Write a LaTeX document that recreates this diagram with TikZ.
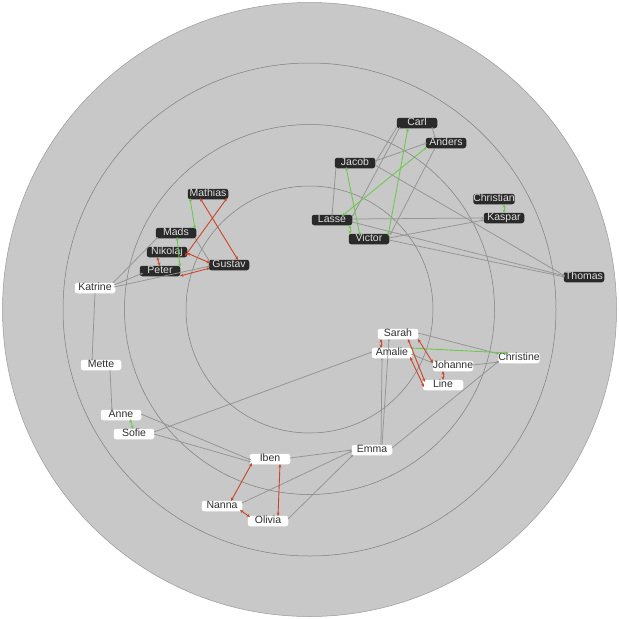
\documentclass[tikz,border=0pt]{standalone}
\usepackage{fontspec}
\setmainfont{Liberation Sans}
\usetikzlibrary{calc,arrows.meta}
\definecolor{bgc}{RGB}{200,200,200}
\definecolor{ring}{RGB}{125,125,125}
\definecolor{edg}{RGB}{148,148,148}
\definecolor{grn}{RGB}{110,200,80}
\definecolor{rd}{RGB}{200,70,40}
\definecolor{dk}{RGB}{42,42,42}
\newcommand\mylink[5]{\draw[#1] ($(#2)+(#3)$) -- ($(#4)+(#5)$);}
\begin{document}
\begin{tikzpicture}[x=1pt,y=-1pt,
  base/.style={rounded corners=2.5pt, minimum width=40.5pt, minimum height=10.5pt, inner sep=0pt, text height=7.4pt, text depth=1.8pt, font=\fontsize{10.5}{12}\selectfont},
  dnode/.style={base, fill=dk, text=white!88!black},
  wnode/.style={base, fill=white, text=black!82},
  grayedge/.style={draw=edg, line width=0.75pt, -{Stealth[length=2.5pt,width=2.2pt]}},
  greenedge/.style={draw=grn, line width=0.9pt, {Stealth[length=3.5pt,width=3pt]}-{Stealth[length=3.5pt,width=3pt]}},
  rededge/.style={draw=rd, line width=0.9pt, {Stealth[length=3.5pt,width=3pt]}-{Stealth[length=3.5pt,width=3pt]}},
  ringline/.style={draw=ring, line width=0.5pt}]
\useasboundingbox (0,0) rectangle (619,619);
\fill[white] (0,0) rectangle (619,619);
\draw[fill=bgc, draw=gray!80, line width=0.5pt] (309.5,309.5) circle (307pt);
\draw[ringline] (309.5,309.5) circle (246.5pt);
\draw[ringline] (309.5,309.5) circle (185pt);
\draw[ringline] (309.5,309.5) circle (123.5pt);
% dark nodes
\node[dnode] (Carl) at (417,123) {Carl};
\node[dnode] (Anders) at (446,143) {Anders};
\node[dnode] (Jacob) at (355,163) {Jacob};
\node[dnode] (Christian) at (494,199) {Christian};
\node[dnode] (Kaspar) at (504,218) {Kaspar};
\node[dnode] (Lasse) at (332,220) {Lasse};
\node[dnode] (Victor) at (369,239) {Victor};
\node[dnode] (Thomas) at (584,277) {Thomas};
\node[dnode] (Mathias) at (208,194) {Mathias};
\node[dnode] (Mads) at (176,233) {Mads};
\node[dnode] (Nikolaj) at (167,252) {Nikolaj};
\node[dnode] (Peter) at (160,271) {Peter};
\node[dnode] (Gustav) at (229,265) {Gustav};
% white nodes
\node[wnode] (Katrine) at (95,288) {Katrine};
\node[wnode] (Mette) at (101,365) {Mette};
\node[wnode] (Anne) at (121,415) {Anne};
\node[wnode] (Sofie) at (134,434) {Sofie};
\node[wnode] (Iben) at (270,459) {Iben};
\node[wnode] (Emma) at (372,450) {Emma};
\node[wnode] (Nanna) at (222,506) {Nanna};
\node[wnode] (Olivia) at (268,521) {Olivia};
\node[wnode] (Sarah) at (398,334) {Sarah};
\node[wnode] (Amalie) at (392,353) {Amalie};
\node[wnode] (Johanne) at (453,366) {Johanne};
\node[wnode] (Line) at (443,385) {Line};
\node[wnode] (Christine) at (519,358) {Christine};
% gray edges
\mylink{grayedge}{Carl}{-20,4}{Jacob}{20,0}
\mylink{grayedge}{Carl}{-17,4}{Lasse}{20,-3}
\mylink{grayedge}{Carl}{15,4}{Anders}{-11,-5}
\mylink{grayedge}{Jacob}{20,-2}{Anders}{-19,0}
\mylink{grayedge}{Jacob}{20,2}{Thomas}{-19,-1}
\mylink{grayedge}{Jacob}{-19,4}{Lasse}{0,-4}
\mylink{grayedge}{Anders}{-11,5}{Victor}{21,-4}
\mylink{grayedge}{Lasse}{20,-1}{Kaspar}{-20,0}
\mylink{grayedge}{Lasse}{20,2}{Thomas}{-19,-1}
\mylink{grayedge}{Victor}{20,-1}{Kaspar}{-20,2}
\mylink{grayedge}{Victor}{20,1}{Thomas}{-19,0}
\mylink{grayedge}{Mads}{19,5}{Gustav}{-19,-3}
\mylink{grayedge}{Katrine}{18,-5}{Mads}{-18,4}
\mylink{grayedge}{Katrine}{19,-3}{Peter}{-17,2}
\mylink{grayedge}{Katrine}{19,-1}{Gustav}{-19,1}
\mylink{grayedge}{Katrine}{0,5}{Mette}{-9,-4}
\mylink{grayedge}{Mette}{9,5}{Anne}{-9,-4}
\mylink{grayedge}{Anne}{20,-1}{Iben}{-19,1}
\mylink{grayedge}{Sofie}{20,0}{Iben}{-19,3}
\mylink{grayedge}{Sofie}{20,-2}{Amalie}{-20,-1}
\mylink{grayedge}{Iben}{20,-1}{Emma}{-20,0}
\mylink{grayedge}{Nanna}{20,-3}{Emma}{-20,1}
\mylink{grayedge}{Olivia}{20,-2}{Emma}{-19,5}
\mylink{grayedge}{Emma}{9,-5}{Amalie}{-10,5}
\mylink{grayedge}{Emma}{10,-5}{Sarah}{-9,5}
\mylink{grayedge}{Emma}{20,-2}{Christine}{-20,3}
\mylink{grayedge}{Sarah}{20,-1}{Christine}{-20,-4}
\mylink{grayedge}{Johanne}{20,-1}{Christine}{-20,4}
\mylink{grayedge}{Amalie}{19,1}{Johanne}{-20,-3}
% green edges
\mylink{greenedge}{Carl}{-9,5}{Victor}{19,-3}
\mylink{greenedge}{Jacob}{-9,4}{Victor}{-9,-3}
\mylink{greenedge}{Anders}{-19,4}{Lasse}{10,-4}
\mylink{greenedge}{Lasse}{18,5}{Victor}{-19,-5}
\mylink{greenedge}{Christian}{10,5}{Kaspar}{0,-5}
\mylink{greenedge}{Mathias}{-18,4}{Mads}{19,-4}
\mylink{greenedge}{Mads}{1,4}{Peter}{20,-4}
\mylink{greenedge}{Anne}{9,4}{Sofie}{-1,-5}
\mylink{greenedge}{Amalie}{18,-5}{Christine}{-11,-5}
% red edges
\mylink{rededge}{Mathias}{19,4}{Nikolaj}{18,4}
\mylink{rededge}{Mathias}{-8,4}{Gustav}{9,-5}
\mylink{rededge}{Nikolaj}{20,1}{Gustav}{-19,-2}
\mylink{rededge}{Nikolaj}{-10,5}{Peter}{0,-5}
\mylink{rededge}{Peter}{20,5}{Gustav}{-19,3}
\mylink{rededge}{Iben}{-18,4}{Nanna}{9,-5}
\mylink{rededge}{Iben}{10,5}{Olivia}{10,-5}
\mylink{rededge}{Nanna}{18,4}{Olivia}{-18,-4}
\mylink{rededge}{Sarah}{-17,5}{Amalie}{-11,-5}
\mylink{rededge}{Sarah}{10,5}{Line}{-18,-3}
\mylink{rededge}{Sarah}{20,5}{Johanne}{-20,-3}
\mylink{rededge}{Amalie}{18,4}{Line}{-19,2}
\mylink{rededge}{Johanne}{-10,5}{Line}{0,-5}
\end{tikzpicture}
\end{document}
